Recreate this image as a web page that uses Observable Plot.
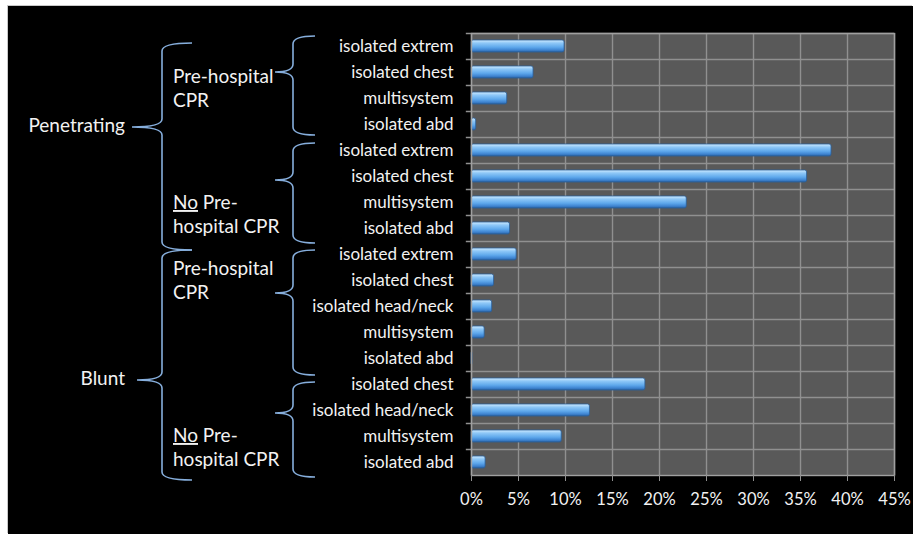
<!DOCTYPE html>
<html><head><meta charset="utf-8">
<script src="https://cdn.jsdelivr.net/npm/d3@7"></script>
<script src="https://cdn.jsdelivr.net/npm/@observablehq/plot@0.6"></script>
<style>
html,body{margin:0;padding:0;background:#fff;}
#chart{position:absolute;left:8px;top:6px;width:905px;height:528px;background:#000;box-shadow:-1px -1px 0 #c8c8c8;}
</style></head><body><div id="chart"></div><script>
// ---- data ----
const mechanisms = ["Penetrating", "Blunt"];
const cprGroups = ["Pre-hospital CPR", "No Pre-hospital CPR"];
const injury = [
  "isolated extrem", "isolated chest", "multisystem", "isolated abd",
  "isolated extrem", "isolated chest", "multisystem", "isolated abd",
  "isolated extrem", "isolated chest", "isolated head/neck", "multisystem", "isolated abd",
  "isolated chest", "isolated head/neck", "multisystem", "isolated abd"
];
const mechanism = [
  "Penetrating","Penetrating","Penetrating","Penetrating",
  "Penetrating","Penetrating","Penetrating","Penetrating",
  "Blunt","Blunt","Blunt","Blunt","Blunt",
  "Blunt","Blunt","Blunt","Blunt"
];
const cpr = [
  "Pre-hospital CPR","Pre-hospital CPR","Pre-hospital CPR","Pre-hospital CPR",
  "No Pre-hospital CPR","No Pre-hospital CPR","No Pre-hospital CPR","No Pre-hospital CPR",
  "Pre-hospital CPR","Pre-hospital CPR","Pre-hospital CPR","Pre-hospital CPR","Pre-hospital CPR",
  "No Pre-hospital CPR","No Pre-hospital CPR","No Pre-hospital CPR","No Pre-hospital CPR"
];
const percent = [9.9, 6.6, 3.8, 0.5, 38.3, 35.7, 22.9, 4.1, 4.8, 2.4, 2.2, 1.4, 0.1, 18.5, 12.6, 9.6, 1.5];
const xTicks = [0, 5, 10, 15, 20, 25, 30, 35, 40, 45];

const rows = injury.map((name, i) => ({key: i, name, mechanism: mechanism[i], cpr: cpr[i], value: percent[i]}));
const keys = rows.map(d => d.key);

const chart = Plot.plot({
  width: 905, height: 528,
  marginLeft: 463, marginRight: 19, marginTop: 27, marginBottom: 59,
  style: {background: "#000", color: "#f2f2f2", fontFamily: "Lato, 'Open Sans', sans-serif", overflow: "visible"},
  x: {domain: [0, 45]},
  y: {domain: keys, padding: 0},
  marks: [
    Plot.frame({fill: "#595959", stroke: "none"}),
    Plot.gridX(xTicks, {stroke: "#909090", strokeOpacity: 1, strokeWidth: 1.4}),
    Plot.ruleY(keys, {y: d => d, x1: -0.55, x2: 45, dy: -13, stroke: "#909090", strokeWidth: 1.4}),
    Plot.barX(rows, {y: "key", x: "value", insetTop: 7, insetBottom: 7, fill: "url(#barGrad)", stroke: "#2a5f9c", strokeWidth: 0.8, rx: 2}),
    Plot.frame({stroke: "#a0a0a0", strokeWidth: 1.4}),
    Plot.axisX(xTicks, {tickFormat: d => d + "%", tickSize: 6, tickPadding: 12, stroke: "#909090", fill: "#f2f2f2", fontSize: 16.5, label: null}),
    Plot.axisY({tickFormat: i => injury[i], tickSize: 0, tickPadding: 18, fill: "#f2f2f2", fontSize: 17, label: null})
  ]
});
document.getElementById("chart").appendChild(chart);

const svg = d3.select(chart);
svg.insert("defs", ":first-child").html(
  `<linearGradient id="barGrad" x1="0" y1="0" x2="0" y2="1">
     <stop offset="0" stop-color="#d2ecff"/>
     <stop offset="0.25" stop-color="#8fc8f7"/>
     <stop offset="0.6" stop-color="#5ea8ec"/>
     <stop offset="0.85" stop-color="#3d82cf"/>
     <stop offset="1" stop-color="#2a5f9c"/>
   </linearGradient>`);

const y = chart.scale("y");
const bw = y.bandwidth;
const yTop = k => y.apply(k);

function brace(g, xv, xEnd, xTip, top, bottom, tip) {
  const r = 8;
  const p = `M${xEnd},${top} Q${xv},${top} ${xv},${top + r} L${xv},${tip - r} Q${xv},${tip} ${xTip},${tip} Q${xv},${tip} ${xv},${tip + r} L${xv},${bottom - r} Q${xv},${bottom} ${xEnd},${bottom}`;
  g.append("path").attr("d", p).attr("fill", "none").attr("stroke", "#86aedc").attr("stroke-width", 1.6);
}

const ann = svg.append("g").attr("font-family", "Lato, 'Open Sans', sans-serif").attr("fill", "#f2f2f2").attr("text-anchor", "start");

// inner braces (CPR groups): [topInset, bottomInset, tipOffset, line1Offset]
const innerStyle = {
  "Penetrating|Pre-hospital CPR": [3, -2, 39, 45],
  "Penetrating|No Pre-hospital CPR": [6, 2, 43, 67],
  "Blunt|Pre-hospital CPR": [9, 4, 52, 29],
  "Blunt|No Pre-hospital CPR": [11, 2, 42, 66]
};
const outerStyle = {"Penetrating": [10, 9, 94], "Blunt": [9, 5, 139]};

for (const m of mechanisms) {
  const mk = rows.filter(d => d.mechanism === m).map(d => d.key);
  const T = yTop(mk[0]), B = yTop(mk[mk.length - 1]) + bw;
  const [ti, bi, to] = outerStyle[m];
  const tip = T + to;
  brace(ann, 154, 184, m === "Penetrating" ? 124 : 129, T + ti, B + bi, tip);
  ann.append("text").attr("x", 117).attr("y", tip).attr("text-anchor", "end")
    .attr("dominant-baseline", "middle").attr("font-size", 19).text(m);
  for (const c of cprGroups) {
    const ck = rows.filter(d => d.mechanism === m && d.cpr === c).map(d => d.key);
    const t = yTop(ck[0]), b = yTop(ck[ck.length - 1]) + bw;
    const [a, bb, tp, l1] = innerStyle[m + "|" + c];
    brace(ann, 285, 307, 267, t + a, b + bb, t + tp);
    const txt = ann.append("text").attr("font-size", 19).attr("dominant-baseline", "middle").attr("text-anchor", "start");
    if (c.startsWith("No ")) {
      const t1 = txt.append("tspan").attr("x", 165).attr("y", t + l1);
      t1.append("tspan").attr("text-decoration", "underline").text("No");
      t1.append("tspan").text(" Pre-");
      txt.append("tspan").attr("x", 165).attr("y", t + l1 + 24).text("hospital CPR");
    } else {
      txt.append("tspan").attr("x", 165).attr("y", t + l1).text("Pre-hospital");
      txt.append("tspan").attr("x", 165).attr("y", t + l1 + 24).text("CPR");
    }
  }
}
</script></body></html>
